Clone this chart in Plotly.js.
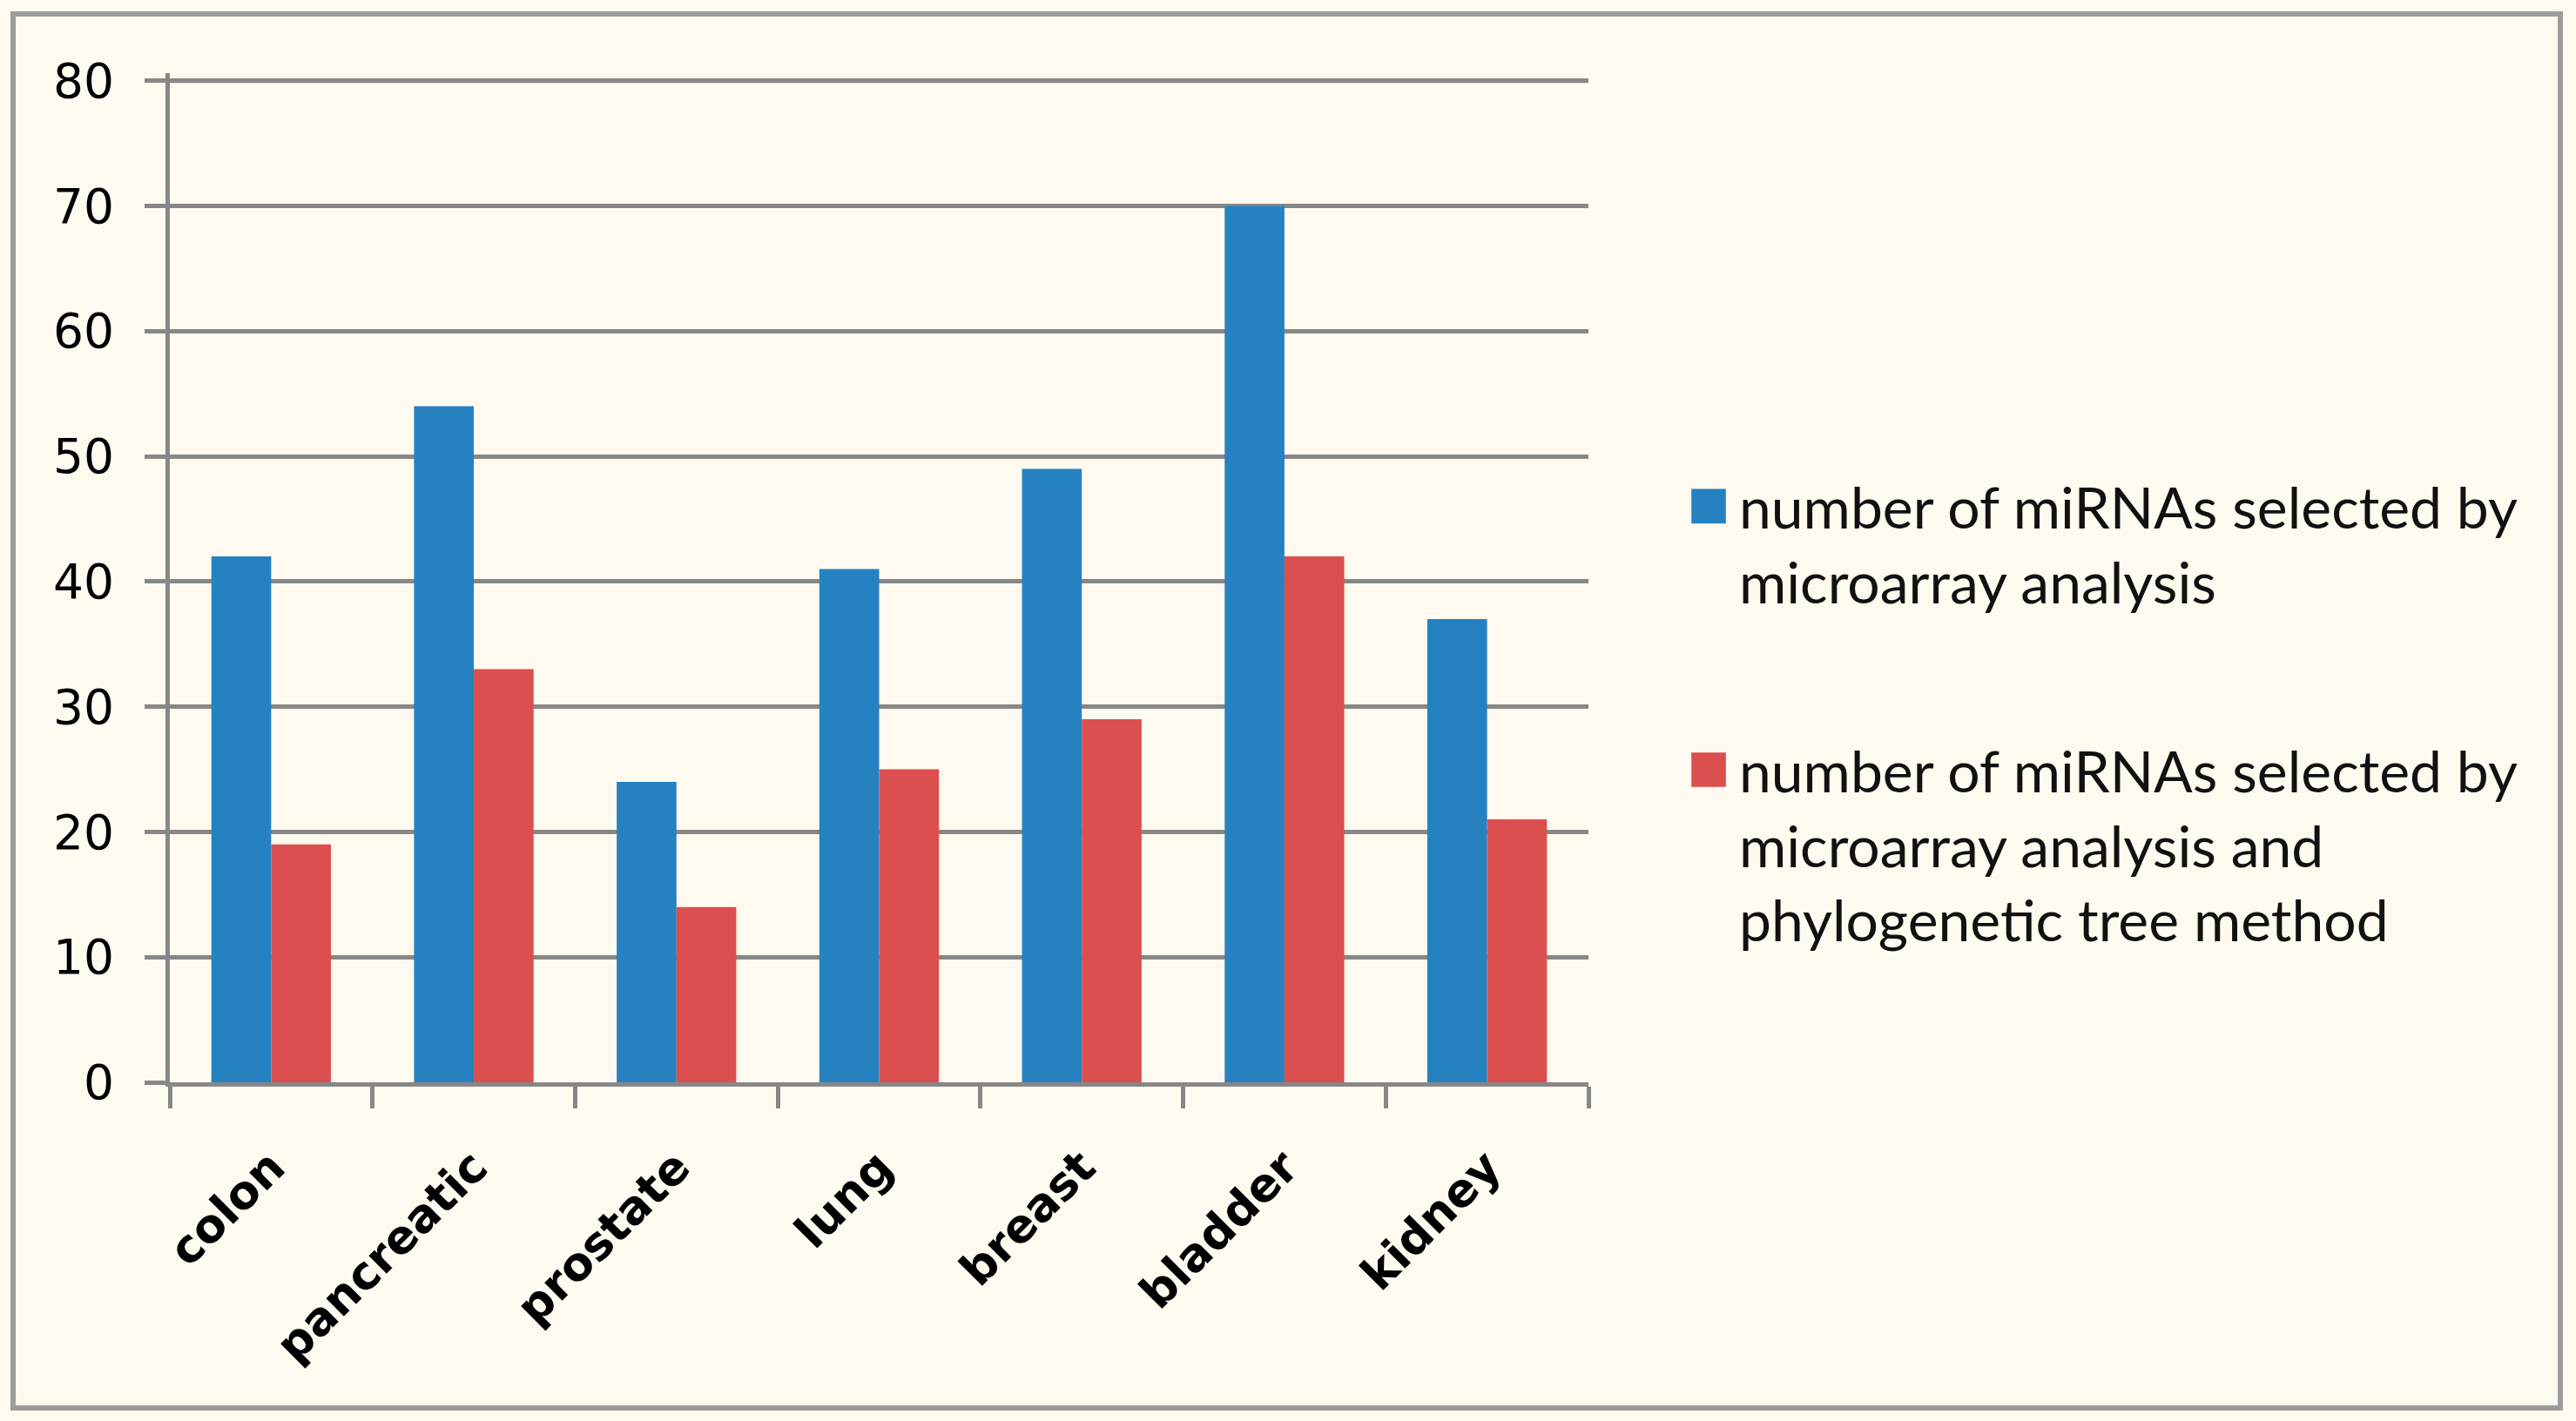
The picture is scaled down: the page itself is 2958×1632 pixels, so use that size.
<!DOCTYPE html>
<html>
<head>
<meta charset="utf-8">
<script src="https://cdn.plot.ly/plotly-3.0.1.min.js"></script>
<style>
html,body{margin:0;padding:0;background:#FEFAEF;}
#chart{width:2958px;height:1632px;}
</style>
</head>
<body>
<div id="chart"></div>
<script>
const categories = ["colon", "pancreatic", "prostate", "lung", "breast", "bladder", "kidney"];
const microarrayOnly = [42, 54, 24, 41, 49, 70, 37];
const microarrayAndTree = [19, 33, 14, 25, 29, 42, 21];
const seriesNames = [
  "number of miRNAs selected by<br>microarray analysis",
  "number of miRNAs selected by<br>microarray analysis and<br>phylogenetic tree method"
];
const yTicks = [0, 10, 20, 30, 40, 50, 60, 70, 80];
const yMax = 80.6;

const W = 2958, H = 1632;
// plot area: y-axis at x=195, right end at x=1824, value 0 at y=1243, 80 at y=93
const mL = 195, mR = W - 1824, mB = H - 1243;
const pxPerUnit = (1243 - 93) / 80;
const mT = Math.round(1243 - pxPerUnit * yMax);
const pW = W - mL - mR, pH = H - mT - mB;
const px2x = p => (p - mL) / pW;
const px2y = p => (H - mB - p) / pH;

const gray = "#878787";

const data = [
  {type: "bar", x: categories, y: microarrayOnly, name: seriesNames[0],
   marker: {color: "#2681C1"}, legendgroup: "a"},
  {type: "bar", x: categories, y: microarrayAndTree, name: seriesNames[1],
   marker: {color: "#DC4F4F"}, legendgroup: "b"}
];

const layout = {
  width: W, height: H,
  paper_bgcolor: "#FEFAEF", plot_bgcolor: "#FEFAEF",
  margin: {l: mL, r: mR, t: mT, b: mB},
  barmode: "group", bargap: 0.41, bargroupgap: 0,
  showlegend: true,
  legend: {
    x: px2x(1927), y: px2y(532), xanchor: "left", yanchor: "top",
    font: {family: "Lato, 'Open Sans', sans-serif", size: 66, color: "#111"},
    valign: "top", tracegroupgap: 128, bgcolor: "rgba(0,0,0,0)",
    itemwidth: 60
  },
  xaxis: {
    type: "category",
    showline: true, linecolor: gray, linewidth: 5,
    ticks: "outside", tickson: "boundaries", ticklen: 25, tickwidth: 5, tickcolor: gray,
    tickangle: -45,
    tickfont: {family: "'DejaVu Sans', Verdana, sans-serif", size: 53, color: "#000", weight: "bold"},
    ticklabelstandoff: 40,
    showgrid: false, zeroline: false
  },
  yaxis: {
    range: [0, yMax], tickvals: yTicks, ticktext: yTicks.map(String),
    showline: true, linecolor: gray, linewidth: 5,
    ticks: "outside", ticklen: 24, tickwidth: 5, tickcolor: gray,
    showgrid: true, gridcolor: gray, gridwidth: 5,
    zeroline: false,
    tickfont: {family: "'DejaVu Sans', Tahoma, sans-serif", size: 55, color: "#000"},
    ticklabelstandoff: 24
  },
  shapes: [
    {type: "rect", xref: "paper", yref: "paper",
     x0: px2x(15), x1: px2x(2940), y0: px2y(1617), y1: px2y(16),
     line: {color: "#9C9C9C", width: 6}, layer: "below"},
    {type: "line", xref: "paper", yref: "y",
     x0: 0, x1: 1, y0: yTicks[yTicks.length - 1], y1: yTicks[yTicks.length - 1],
     line: {color: gray, width: 5}, layer: "below"}
  ]
};

Plotly.newPlot("chart", data, layout, {displayModeBar: false, staticPlot: true}).then(() => {
  document.querySelectorAll(".legendpoints path").forEach(p => {
    p.setAttribute("transform", (p.getAttribute("transform") || "") + " scale(3.3)");
  });
});
</script>
</body>
</html>
